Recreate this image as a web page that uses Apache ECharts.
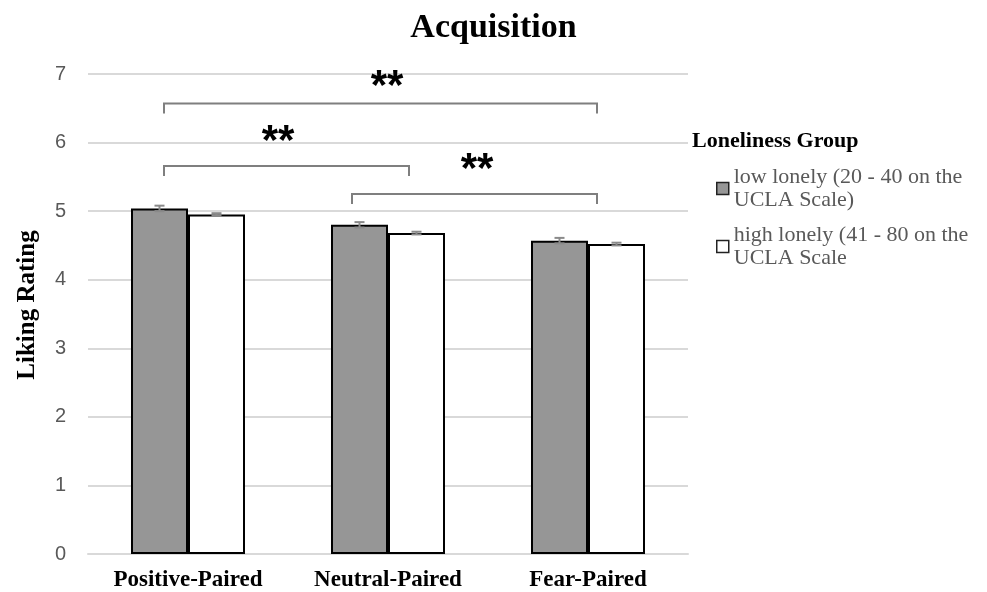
<!DOCTYPE html>
<html>
<head>
<meta charset="utf-8">
<script src="https://cdn.jsdelivr.net/npm/echarts@6/dist/echarts.min.js"></script>
<style>
  html, body { margin: 0; padding: 0; background: #fff; }
  #main { width: 987px; height: 592px; }
</style>
</head>
<body>
<div id="main"></div>
<script>
  // data
  var categories = ['Positive-Paired', 'Neutral-Paired', 'Fear-Paired'];
  var lowLonely = [5.04, 4.80, 4.57];
  var highLonely = [4.95, 4.68, 4.52];
  var lowErr = [0.04, 0.04, 0.04];
  var highErr = [0.02, 0.02, 0.02];
  var yTicks = [0, 1, 2, 3, 4, 5, 6, 7];

  // significance brackets: [xStart, xEnd, y] in category units
  var brackets = [
    [-0.12, 2.045, 6.57],
    [-0.12, 1.105, 5.66],
    [0.82, 2.045, 5.25]
  ];
  var stars = [
    [0.995, 6.81],
    [0.45, 6.0],
    [1.445, 5.6]
  ];

  var lowName = 'low lonely (20 - 40 on the\nUCLA Scale)';
  var highName = 'high lonely (41 - 80 on the\nUCLA Scale';

  var serif = '"Liberation Serif", "DejaVu Serif", serif';
  var sans = '"Liberation Sans", "Open Sans", sans-serif';

  function errorBars(err, offset) {
    return function (params, api) {
      var i = api.value(0);
      var v = api.value(1);
      var e = err[i];
      var band = api.size([1, 0])[0];
      var top = api.coord([i, v + e]);
      var bot = api.coord([i, v - e]);
      var x = top[0] + band * offset;
      var w = 5;
      var st = { stroke: '#8a8a8a', lineWidth: 2 };
      return {
        type: 'group',
        children: [
          { type: 'line', shape: { x1: x, y1: top[1], x2: x, y2: bot[1] }, style: st },
          { type: 'line', shape: { x1: x - w, y1: top[1], x2: x + w, y2: top[1] }, style: st },
          { type: 'line', shape: { x1: x - w, y1: bot[1], x2: x + w, y2: bot[1] }, style: st }
        ]
      };
    };
  }

  // one legend per item so the square sits beside the first text line
  function legendFor(name, fill, top) {
    return {
      orient: 'vertical',
      left: 716,
      top: top,
      padding: 0,
      itemWidth: 12,
      itemHeight: 12,
      icon: 'rect',
      data: [{ name: name, itemStyle: { color: fill, borderColor: '#222', borderWidth: 1.5 } }],
      textStyle: { fontFamily: serif, fontSize: 22, color: '#595959', lineHeight: 23, padding: [23, 0, 0, 0] }
    };
  }

  var myChart = echarts.init(document.getElementById('main'));
  var option = {
    animation: false,
    title: [{
      text: 'Acquisition',
      left: 'center',
      top: 6,
      textStyle: { fontFamily: serif, fontSize: 34, fontWeight: 'bold', color: '#000' }
    }, {
      text: 'Loneliness Group',
      left: 687,
      top: 125,
      textStyle: { fontFamily: serif, fontSize: 22, fontWeight: 'bold', color: '#000' }
    }],
    legend: [
      legendFor(lowName, '#969696', 154),
      legendFor(highName, '#fff', 212)
    ],
    grid: { left: 88, top: 74, width: 600, height: 480, containLabel: false },
    xAxis: [{
      type: 'category',
      data: categories,
      axisLine: { lineStyle: { color: '#d9d9d9', width: 2 } },
      axisTick: { show: false },
      axisLabel: { fontFamily: serif, fontSize: 23, fontWeight: 'bold', color: '#000', margin: 15 }
    }, {
      type: 'value',
      min: -0.5,
      max: 2.5,
      show: false
    }],
    yAxis: {
      type: 'value',
      min: yTicks[0],
      max: yTicks[yTicks.length - 1],
      interval: 1,
      name: 'Liking Rating',
      nameLocation: 'middle',
      nameGap: 48,
      nameTextStyle: { fontFamily: serif, fontSize: 25, fontWeight: 'bold', color: '#000', padding: [0, 0, 0, 18] },
      axisLine: { show: false },
      axisTick: { show: false },
      axisLabel: { fontFamily: sans, fontSize: 20, color: '#595959', margin: 22 },
      splitLine: { lineStyle: { color: '#d9d9d9', width: 2 } }
    },
    series: [{
      name: lowName,
      type: 'bar',
      data: lowLonely,
      barWidth: '28.5%',
      barGap: '0%',
      itemStyle: { color: '#969696', borderColor: '#000', borderWidth: 2 }
    }, {
      name: highName,
      type: 'bar',
      data: highLonely,
      barWidth: '28.5%',
      barGap: '0%',
      itemStyle: { color: '#fff', borderColor: '#000', borderWidth: 2 }
    }, {
      type: 'custom',
      renderItem: errorBars(lowErr, -0.1425),
      data: lowLonely.map(function (v, i) { return [i, v]; }),
      z: 10
    }, {
      type: 'custom',
      renderItem: errorBars(highErr, 0.1425),
      data: highLonely.map(function (v, i) { return [i, v]; }),
      z: 10
    }, {
      type: 'custom',
      xAxisIndex: 1,
      data: brackets,
      renderItem: function (params, api) {
        var a = api.coord([api.value(0), api.value(2)]);
        var b = api.coord([api.value(1), api.value(2)]);
        var drop = 10;
        return {
          type: 'polyline',
          shape: { points: [[a[0], a[1] + drop], a, b, [b[0], b[1] + drop]] },
          style: { stroke: '#7f7f7f', lineWidth: 2, fill: null }
        };
      },
      z: 5
    }, {
      type: 'custom',
      xAxisIndex: 1,
      data: stars,
      renderItem: function (params, api) {
        var p = api.coord([api.value(0), api.value(1)]);
        return {
          type: 'text',
          x: p[0],
          y: p[1],
          style: {
            text: '**',
            fontFamily: sans,
            fontSize: 42,
            fontWeight: 'bold',
            fill: '#000',
            align: 'center',
            verticalAlign: 'middle'
          }
        };
      },
      z: 5
    }]
  };
  myChart.setOption(option);
</script>
</body>
</html>
